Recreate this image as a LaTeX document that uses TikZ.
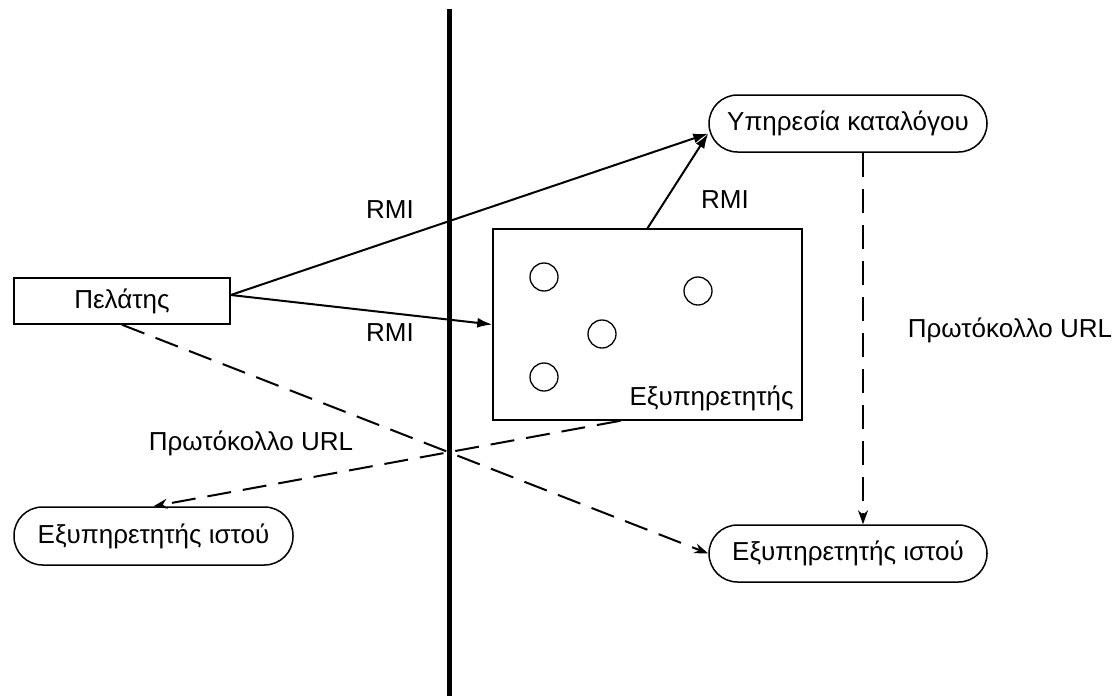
\documentclass[tikz,border=0pt]{standalone}
\usepackage{fontspec}
\setmainfont{Liberation Sans}
\usetikzlibrary{arrows.meta,calc}

\begin{document}
\begin{tikzpicture}[x=1pt,y=-1pt,font=\fontsize{26}{29}\selectfont, >=Latex,
 box/.style={draw,line width=1.5pt,inner sep=0pt},
 term/.style={draw,line width=1.5pt,rounded corners=28.5pt,inner sep=0pt,minimum width=278pt,minimum height=57pt},
 dot/.style={draw,circle,line width=1.3pt,minimum size=28pt,inner sep=0pt},
 line/.style={-{Latex[length=15pt,width=10pt]},line width=2pt},
 dline/.style={-{Stealth[length=14pt,width=10pt]},line width=2pt,dash pattern=on 24pt off 12pt}]
\useasboundingbox (0,0) rectangle (1119,696);
% divider
\coordinate (wtop) at (449.5,9);
\coordinate (wbot) at (449.5,696);
\draw[line width=4.5pt] (wtop) -- (wbot);
% nodes
\node[box,minimum width=216pt,minimum height=46pt] (cli) at (122,301) {Πελάτης};
\node[term] (cat) at (848,123.5) {Υπηρεσία καταλόγου};
\node[box,minimum width=309pt,minimum height=191pt] (srv) at (647.5,324.5) {};
\node[anchor=base east,inner sep=0pt] (srvname) at ([xshift=-9pt,yshift=15pt]srv.south east) {Εξυπηρετητής};
\foreach \n/\x/\y in {c1/544/277,c2/698/291,c3/602/334,c4/544/377} \node[dot] (\n) at (\x,\y) {};
\node[term,minimum width=279pt,minimum height=58pt] (webL) at (153.5,536) {Εξυπηρετητής ιστού};
\node[term] (webR) at (848,553.5) {Εξυπηρετητής ιστού};
% connectors
\draw[line] ([yshift=6pt]cli.east) -- ([yshift=-10pt]cat.west);
\draw[line] ([yshift=6pt]cli.east) -- (srv.west);
\draw[line] (srv.north) -- ([yshift=-10pt]cat.west);
\draw[dline] (cli.south) -- (webR.west);
\draw[dline] ([xshift=-27pt]srv.south) -- (webL.north);
\draw[dline] ([xshift=15pt]cat.south) -- ([xshift=15pt]webR.north);
% labels
\node (rmi1) at (390,210) {RMI};
\node (rmi2) at (390,333) {RMI};
\node (rmi3) at (725,200) {RMI};
\node (url1) at (251,443) {Πρωτόκολλο URL};
\node (url2) at (1010,330) {Πρωτόκολλο URL};
\end{tikzpicture}
\end{document}
